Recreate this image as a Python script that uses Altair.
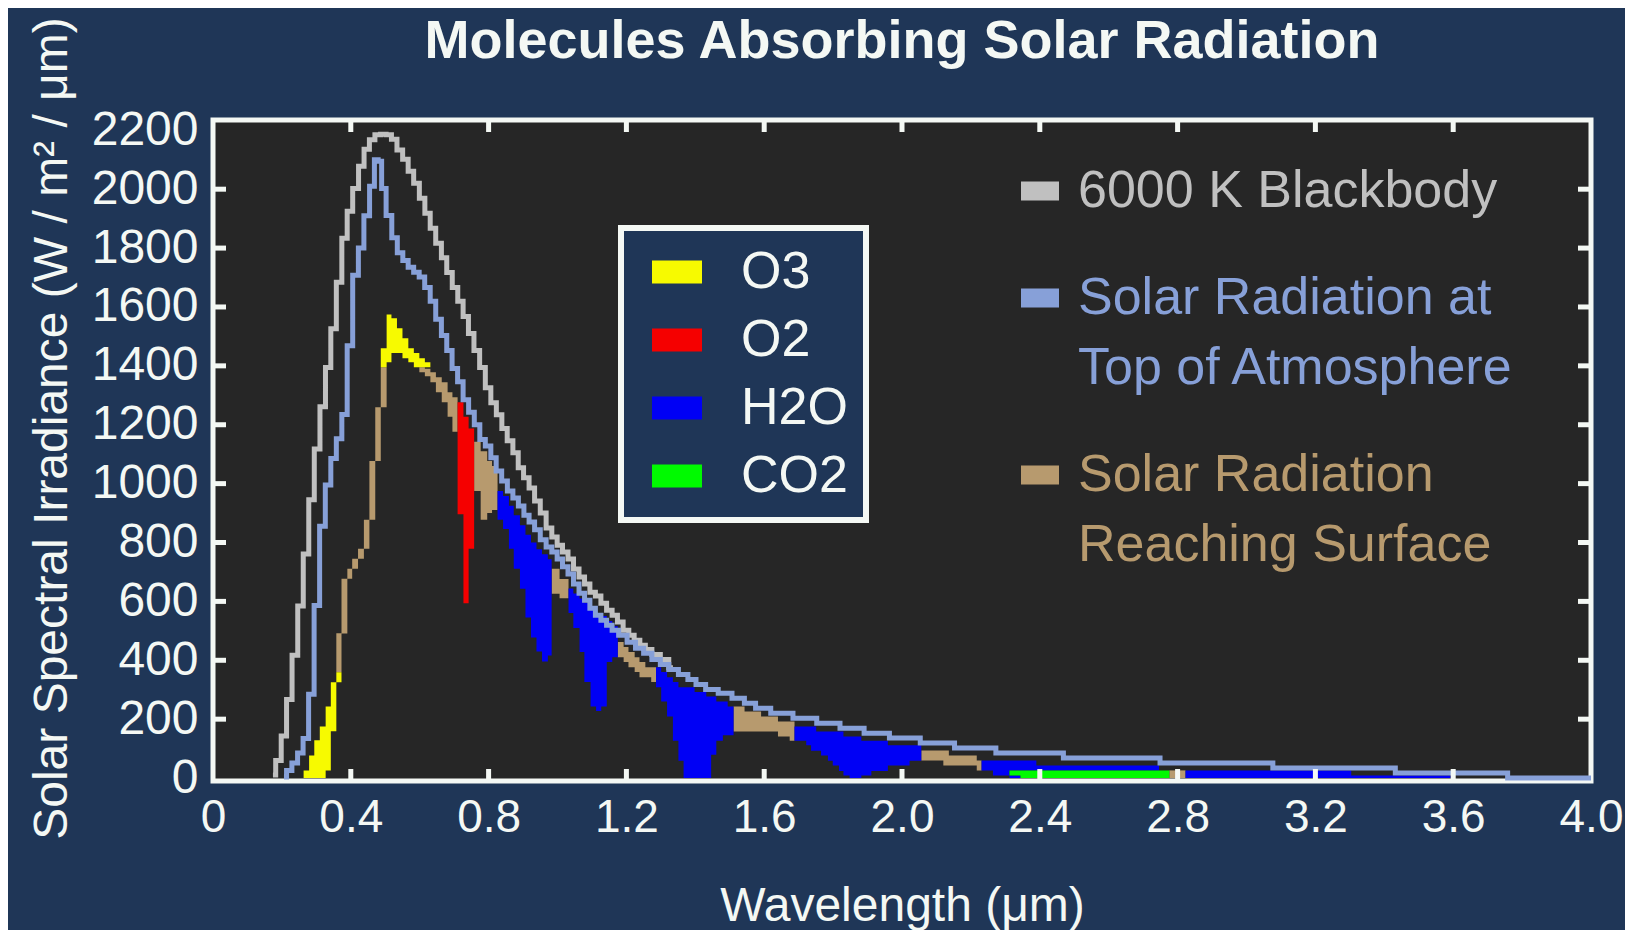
import altair as alt
import pandas as pd

FONT = "Liberation Sans"
WHITE = "#f4f8f4"
BG = "#1f3657"
PLOT_BG = "#262626"
GRAY = "#c0c0c0"
LBLUE = "#87a0d8"
TAN = "#b79a6e"
YELLOW = "#f7fa00"
RED = "#f50000"
BLUE = "#0000f5"
GREEN = "#00fa00"

W, H = 1378, 661

# ---------------- data ----------------
x_tick_labels = [0, 0.4, 0.8, 1.2, 1.6, 2.0, 2.4, 2.8, 3.2, 3.6, 4.0]
y_tick_labels = [0, 200, 400, 600, 800, 1000, 1200, 1400, 1600, 1800, 2000, 2200]

# 6000 K blackbody (wavelength um, W/m2/um)
bb_x = [0.174, 0.190, 0.206, 0.221, 0.238, 0.254, 0.270, 0.286, 0.302, 0.319,
        0.334, 0.350, 0.366, 0.382, 0.397, 0.414, 0.431, 0.446, 0.462, 0.478,
        0.495, 0.510, 0.526, 0.542, 0.559, 0.574, 0.591, 0.607, 0.623, 0.638,
        0.655, 0.671, 0.686, 0.703, 0.718, 0.734, 0.749, 0.766, 0.782, 0.799,
        0.814, 0.831, 0.846, 0.862, 0.879, 0.893, 0.910, 0.925, 0.942, 0.958,
        0.976, 0.991, 1.007, 1.022, 1.039, 1.054, 1.071, 1.086, 1.102, 1.118,
        1.134, 1.151, 1.166, 1.182, 1.199, 1.215, 1.230, 1.248, 1.262, 1.286,
        1.311, 1.335]
bb_y = [10, 60, 143, 267, 417, 584, 761, 945, 1118, 1261,
        1394, 1526, 1684, 1833, 1925, 2002, 2078, 2136, 2168, 2185,
        2187, 2185, 2170, 2133, 2102, 2061, 2020, 1969, 1918, 1867,
        1816, 1767, 1717, 1666, 1619, 1568, 1510, 1452, 1394, 1326,
        1275, 1234, 1187, 1146, 1105, 1054, 1020, 985, 941, 900,
        849, 819, 791, 768, 744, 710, 683, 659, 631, 618,
        594, 570, 553, 530, 502, 485, 468, 451, 437, 420,
        403, 375]

# Solar radiation at top of atmosphere
toa_x = [0.206, 0.221, 0.237, 0.254, 0.269, 0.286, 0.301, 0.318, 0.334, 0.350,
         0.366, 0.382, 0.397, 0.414, 0.430, 0.446, 0.463, 0.474, 0.485, 0.494,
         0.511, 0.527, 0.543, 0.559, 0.574, 0.591, 0.606, 0.623, 0.638, 0.655,
         0.671, 0.686, 0.702, 0.718, 0.734, 0.750, 0.767, 0.782, 0.799, 0.814,
         0.830, 0.846, 0.863, 0.878, 0.895, 0.910, 0.925, 0.942, 0.958, 0.976,
         0.991, 1.007, 1.022, 1.039, 1.054, 1.071, 1.086, 1.102, 1.118, 1.134,
         1.151, 1.166, 1.189, 1.215, 1.238, 1.262, 1.286, 1.311, 1.335, 1.367,
         1.390, 1.414, 1.446, 1.487, 1.526, 1.559, 1.591, 1.647, 1.720, 1.785,
         1.855, 1.925, 2.002, 2.104, 2.201, 2.344, 2.593, 2.905, 3.248, 3.616,
         3.900, 4.000]
toa_y = [4, 26, 51, 85, 134, 285, 586, 855, 995, 1085,
         1152, 1235, 1468, 1708, 1800, 1910, 2010, 2100, 2095, 2002,
         1911, 1835, 1784, 1758, 1735, 1718, 1702, 1666, 1619, 1558,
         1503, 1452, 1391, 1346, 1285, 1242, 1200, 1150, 1128, 1088,
         1043, 1009, 975, 951, 924, 893, 870, 843, 809, 785,
         768, 744, 718, 693, 659, 628, 604, 577, 553, 536,
         519, 502, 485, 461, 441, 424, 403, 386, 369, 352,
         335, 318, 301, 288, 271, 254, 237, 220, 203, 186,
         169, 152, 136, 119, 102, 85, 68, 51, 34, 17,
         0, 0]

# Solar radiation reaching surface (bands: x_left, top, bottom; last row closes the band)
sfc_rise = [(0.358, 492, 359), (0.373, 677, 491), (0.390, 711, 677), (0.404, 745, 711),
            (0.421, 779, 745), (0.438, 877, 779), (0.454, 1077, 877), (0.471, 1259, 1077),
            (0.487, 1395, 1259), (0.504, 1395, 1259)]
sfc_a = [(0.599, 1395, 1378), (0.615, 1390, 1365), (0.631, 1378, 1344), (0.647, 1361, 1310),
         (0.664, 1344, 1276), (0.681, 1310, 1227), (0.695, 1293, 1176), (0.710, 1293, 1176)]
sfc_b = [(0.758, 1142, 975), (0.777, 1110, 877), (0.796, 1077, 900), (0.810, 1060, 910),
         (0.826, 1060, 910)]
sfc_c = [(0.983, 711, 626), (1.006, 676, 611), (1.032, 676, 611)]
sfc_d = [(1.175, 462, 410), (1.192, 445, 394), (1.206, 428, 376), (1.224, 410, 360),
         (1.238, 394, 342), (1.255, 376, 342), (1.272, 376, 326), (1.286, 376, 326)]
sfc_e = [(1.511, 243, 158), (1.543, 226, 158), (1.591, 209, 158), (1.640, 192, 141),
         (1.674, 192, 127), (1.688, 192, 127)]
sfc_f = [(2.056, 94, 60), (2.120, 94, 43), (2.136, 77, 43), (2.217, 60, 26), (2.231, 60, 26)]
sfc_g = [(2.776, 26, 0), (2.823, 26, 0)]

# Absorption bands by molecule
o3_uv = [(0.263, 26, 0), (0.279, 77, 0), (0.294, 128, 0), (0.310, 175, 0), (0.327, 243, 26),
         (0.342, 325, 159), (0.358, 359, 325), (0.373, 359, 325)]
o3_vis = [(0.487, 1460, 1395), (0.504, 1574, 1412), (0.518, 1562, 1444), (0.534, 1528, 1444),
          (0.550, 1494, 1426), (0.567, 1460, 1412), (0.583, 1444, 1395), (0.599, 1426, 1395),
          (0.615, 1412, 1395), (0.631, 1412, 1395)]
o2_a = [(0.710, 1276, 896), (0.727, 1227, 594), (0.742, 1187, 779), (0.758, 1187, 779)]
h2o_1 = [(0.826, 975, 877), (0.842, 958, 846), (0.859, 925, 779), (0.873, 893, 711),
         (0.891, 859, 643), (0.907, 826, 545), (0.923, 800, 477), (0.939, 777, 430),
         (0.955, 760, 396), (0.972, 743, 416), (0.983, 743, 416)]
h2o_2 = [(1.032, 644, 561), (1.046, 627, 510), (1.064, 610, 428), (1.078, 595, 326),
         (1.096, 578, 243), (1.112, 561, 228), (1.127, 550, 243), (1.143, 533, 394),
         (1.159, 516, 410), (1.175, 516, 410)]
h2o_3 = [(1.286, 376, 308), (1.301, 360, 260), (1.318, 342, 209), (1.335, 326, 127),
         (1.351, 308, 59), (1.366, 308, 0), (1.398, 292, 0), (1.432, 277, 0),
         (1.446, 277, 79), (1.461, 260, 127), (1.480, 260, 145), (1.494, 243, 145),
         (1.511, 243, 145)]
h2o_4 = [(1.688, 175, 127), (1.722, 175, 111), (1.736, 175, 93), (1.751, 158, 93),
         (1.765, 158, 77), (1.785, 158, 59), (1.799, 158, 43), (1.817, 158, 24),
         (1.830, 141, 9), (1.848, 141, 0), (1.882, 127, 9), (1.911, 127, 24),
         (1.959, 111, 43), (2.022, 111, 59), (2.056, 111, 59)]
h2o_5 = [(2.231, 60, 26), (2.264, 60, 9), (2.312, 60, 26), (2.390, 43, 26), (2.746, 43, 26)]
h2o_6 = [(2.312, 9, 0), (2.344, 9, 0)]
h2o_7 = [(2.823, 26, 0), (3.304, 9, 0), (3.592, 9, 0)]
co2_a = [(2.312, 26, 9), (2.344, 26, 0), (2.776, 26, 0)]

MOLS = ["O3", "O2", "H2O", "CO2"]
MOL_COLORS = [YELLOW, RED, BLUE, GREEN]
SERIES = ["bb", "toa", "sfc"]

# ---------------- tables ----------------
sfc_rows = []
for k, band in enumerate([sfc_rise, sfc_a, sfc_b, sfc_c, sfc_d, sfc_e, sfc_f, sfc_g]):
    for (x, t, b) in band:
        sfc_rows.append({"region": k, "x": x, "top": t, "bot": b})
sfc_df = pd.DataFrame(sfc_rows)

abs_rows = []
abs_bands = [("O3", o3_uv), ("O3", o3_vis), ("O2", o2_a), ("H2O", h2o_1), ("H2O", h2o_2),
             ("H2O", h2o_3), ("H2O", h2o_4), ("H2O", h2o_5), ("H2O", h2o_6), ("H2O", h2o_7),
             ("CO2", co2_a)]
for k, (mol, band) in enumerate(abs_bands):
    for (x, t, b) in band:
        abs_rows.append({"region": k, "mol": mol, "x": x, "top": t, "bot": b})
abs_df = pd.DataFrame(abs_rows)

bb_df = pd.DataFrame({"x": bb_x, "y": bb_y})
toa_df = pd.DataFrame({"x": toa_x, "y": toa_y})

# ---------------- scales / axes ----------------
xscale = alt.Scale(domain=[0, 4], nice=False, zero=False)
yscale = alt.Scale(domain=[-10, 2235], nice=False, zero=False)

xaxis = alt.Axis(values=x_tick_labels,
                 labelExpr="datum.value == 0 ? '0' : format(datum.value, '.1f')",
                 title="Wavelength (μm)", domain=False, ticks=False, tickSize=0, grid=False,
                 labelFontSize=46, labelColor=WHITE, labelFont=FONT, labelPadding=14,
                 labelFlush=False, labelOverlap=False,
                 titleFontSize=48, titleColor=WHITE, titleFont=FONT, titleFontWeight="normal",
                 titleX=W / 2, titleY=101, titleBaseline="top", titleAlign="center")
yaxis = alt.Axis(values=y_tick_labels, format="d",
                 title="Solar Spectral Irradiance (W / m² / μm)", domain=False, ticks=False,
                 tickSize=0, grid=False,
                 labelFontSize=48, labelColor=WHITE, labelFont=FONT, labelPadding=15,
                 labelFlush=False, labelOverlap=False,
                 titleFontSize=48, titleColor=WHITE, titleFont=FONT, titleFontWeight="normal",
                 titleAngle=270, titleX=-161, titleY=308, titleAlign="center",
                 titleBaseline="middle")


def xenc(field):
    return alt.X(field, type="quantitative", scale=xscale, axis=xaxis)


def yenc(field):
    return alt.Y(field, type="quantitative", scale=yscale, axis=yaxis)


# ---------------- layers ----------------
sfc_layer = alt.Chart(sfc_df).mark_area(interpolate="step-after", color=TAN).encode(
    x=xenc("x"), y=yenc("top"), y2="bot:Q", detail="region:N",
)

abs_layer = alt.Chart(abs_df).mark_area(interpolate="step-after").encode(
    x=xenc("x"), y=yenc("top"), y2="bot:Q", detail="region:N",
    color=alt.Color("mol:N", scale=alt.Scale(domain=MOLS, range=MOL_COLORS),
                    legend=alt.Legend(title=None, orient="none", legendX=408, legendY=108,
                                      direction="vertical",
                                      symbolType="M-1,-0.46H1V0.46H-1Z", symbolSize=2500,
                                      symbolStrokeWidth=0, symbolOpacity=1,
                                      labelFontSize=52, labelColor=WHITE, labelFont=FONT,
                                      labelOffset=38, symbolOffset=12, padding=18,
                                      rowPadding=16, fillColor=BG, strokeColor=WHITE,
                                      labelLimit=600)),
)

bb_layer = alt.Chart(bb_df).mark_line(interpolate="step", color=GRAY, strokeWidth=5).encode(
    x=xenc("x"), y=yenc("y"),
)
toa_layer = alt.Chart(toa_df).mark_line(interpolate="step", color=LBLUE, strokeWidth=5).encode(
    x=xenc("x"), y=yenc("y"),
)

xt_df = pd.DataFrame({"x": x_tick_labels[1:-1]})
yt_df = pd.DataFrame({"y": y_tick_labels[1:-1]})
tick_bottom = alt.Chart(xt_df).mark_rule(color=WHITE, strokeWidth=5).encode(
    x=xenc("x"), y=alt.value(H - 12), y2=alt.value(H))
tick_top = alt.Chart(xt_df).mark_rule(color=WHITE, strokeWidth=5).encode(
    x=xenc("x"), y=alt.value(0), y2=alt.value(12))
tick_left = alt.Chart(yt_df).mark_rule(color=WHITE, strokeWidth=5).encode(
    y=yenc("y"), x=alt.value(0), x2=alt.value(13))
tick_right = alt.Chart(yt_df).mark_rule(color=WHITE, strokeWidth=5).encode(
    y=yenc("y"), x=alt.value(W - 13), x2=alt.value(W))

label_expr = ("datum.value == 'bb' ? '6000 K Blackbody' : datum.value == 'toa' ? "
              "['Solar Radiation at', 'Top of Atmosphere'] : "
              "['Solar Radiation', 'Reaching Surface']")
color_expr = ("datum.value == 'bb' ? '%s' : datum.value == 'toa' ? '%s' : '%s'"
              % (GRAY, LBLUE, TAN))
legend_layer = alt.Chart(pd.DataFrame({"s": SERIES})).transform_filter("false").mark_rect().encode(
    fill=alt.Fill("s:N", scale=alt.Scale(domain=SERIES, range=[GRAY, LBLUE, TAN]),
                  legend=alt.Legend(title=None, orient="none", legendX=801, legendY=45,
                                    direction="vertical",
                                    symbolType="M-1,-0.5H1V0.5H-1Z", symbolSize=1444,
                                    symbolStrokeWidth=0, symbolOpacity=1,
                                    labelFontSize=52, labelFont=FONT,
                                    labelColor={"expr": color_expr},
                                    labelExpr=label_expr, labelOffset=12, padding=0,
                                    rowPadding=55, labelLimit=1000,
                                    strokeColor="transparent")),
    x=alt.value(0), x2=alt.value(1), y=alt.value(0), y2=alt.value(1),
)

chart = alt.layer(
    sfc_layer, abs_layer, bb_layer, toa_layer,
    tick_bottom, tick_top, tick_left, tick_right, legend_layer,
).properties(
    width=W, height=H,
    title=alt.TitleParams(text="Molecules Absorbing Solar Radiation", fontSize=54,
                          fontWeight="bold", font=FONT, color=WHITE, anchor="middle",
                          offset=-52),
    background=BG,
    padding={"left": 205, "top": 112, "right": 34, "bottom": 149},
    autosize=alt.AutoSizeParams(type="none"),
).configure(
    style={"guide-label": {"lineHeight": 70}},
).configure_view(
    stroke=WHITE, strokeWidth=5, fill=PLOT_BG,
).configure_legend(
    strokeWidth=6,
)

chart.save("out.html", embed_options={"renderer": "svg", "actions": False})
